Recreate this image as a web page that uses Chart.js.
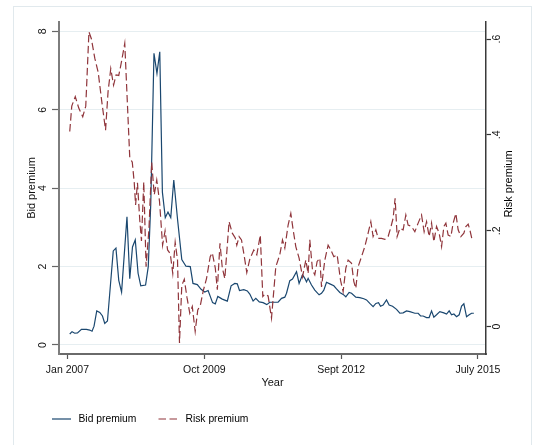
<!DOCTYPE html>
<html>
<head>
<meta charset="utf-8">
<script src="https://cdn.jsdelivr.net/npm/chart.js@4.4.1/dist/chart.umd.min.js"></script>
<style>
  html, body { margin: 0; padding: 0; background: #fff; overflow: hidden; }
  #frame { position: absolute; left: 13px; top: 6px; width: 517px; height: 460px; border: 1px solid #e1e9ed; }
  #c { position: absolute; left: 0; top: 0; }
</style>
</head>
<body>
<div id="frame"></div>
<canvas id="c" width="534" height="445"></canvas>
<script>
// time index in months from Jan 2007
const xTickValues = [0, 34, 68, 102];
const xTickLabels = ["Jan 2007", "Oct 2009", "Sept 2012", "July 2015"];
const bidTicks = [0, 2, 4, 6, 8];
const riskTicks = [0, 0.2, 0.4, 0.6];
const riskTickLabels = ["0", ".2", ".4", ".6"];

const bidMonths = [0.57,1.14,1.81,2.49,3.48,4.72,5.54,6.11,6.61,7.28,
  8.03,8.70,9.27,9.94,11.38,12.05,12.75,13.45,14.79,15.48,
  16.16,16.85,17.55,18.22,19.41,20.08,20.70,21.50,22.24,22.94,
  23.59,24.31,24.98,25.67,26.42,27.36,28.41,29.45,30.52,31.19,
  32.26,33.21,34.12,34.95,36.06,36.73,37.36,38.47,39.72,40.66,
  41.58,42.20,42.75,43.82,44.69,45.31,46.13,46.80,47.67,48.61,
  49.53,50.28,51.52,52.34,53.19,54.01,54.43,55.25,55.92,56.92,
  57.56,58.41,58.98,59.40,59.80,60.64,61.46,62.53,63.13,63.70,
  64.37,65.19,66.19,66.86,67.68,68.50,69.17,69.99,70.59,71.65,
  72.65,73.64,74.31,75.13,75.95,76.63,77.30,77.79,78.44,79.28,
  79.93,80.78,81.77,82.59,83.41,84.25,85.08,86.32,87.14,87.74,
  88.38,89.23,89.87,90.47,91.04,91.71,92.53,93.53,94.20,94.85,
  95.44,96.02,96.69,97.33,97.93,98.50,99.17,99.82,100.41,100.98];
const bidValues = [0.28,0.34,0.30,0.31,0.40,0.40,0.38,0.35,0.48,0.87,
  0.83,0.74,0.55,0.61,2.40,2.47,1.65,1.35,3.27,1.69,
  2.50,2.68,1.83,1.51,1.53,2.0,3.6,7.44,6.93,7.48,
  3.9,3.25,3.39,3.25,4.21,3.2,2.18,2.01,2.0,1.57,
  1.54,1.42,1.35,1.39,1.08,1.05,1.24,1.17,1.12,1.51,
  1.57,1.56,1.39,1.41,1.38,1.30,1.12,1.19,1.10,1.08,
  1.03,1.09,1.09,1.09,1.19,1.22,1.32,1.64,1.68,1.87,
  1.57,1.79,1.70,1.61,1.70,1.53,1.40,1.28,1.32,1.40,
  1.60,1.56,1.51,1.43,1.34,1.29,1.23,1.34,1.32,1.22,
  1.21,1.18,1.15,1.06,0.98,1.06,1.08,0.99,1.02,1.15,
  1.02,0.99,0.91,0.81,0.82,0.87,0.85,0.81,0.81,0.74,
  0.74,0.70,0.70,0.87,0.71,0.77,0.85,0.82,0.79,0.87,
  0.77,0.79,0.72,0.77,0.99,1.05,0.72,0.77,0.81,0.81];

const riskMonths = [0.57,1.07,1.94,2.81,3.80,4.55,5.34,5.96,6.79,7.65,
  8.52,9.47,10.09,10.76,11.46,12.08,12.75,13.37,14.24,15.48,
  16.11,16.60,16.93,17.40,17.97,18.39,18.96,19.54,20.26,20.93,
  21.57,22.19,22.87,23.64,24.26,24.88,25.55,26.17,26.77,27.35,
  27.84,28.41,29.03,29.70,30.40,31.02,31.74,32.38,33.03,33.75,
  34.55,35.47,35.99,36.74,37.24,37.90,38.47,39.10,40.16,40.96,
  41.70,42.08,42.65,43.25,43.82,44.56,45.31,46.30,47.05,47.92,
  48.54,49.04,49.86,50.70,51.77,52.76,53.43,54.01,54.83,55.50,
  56.08,56.74,57.56,58.41,59.23,59.80,60.22,60.89,61.46,62.04,
  62.71,63.13,63.95,64.77,65.44,66.19,67.01,67.85,68.50,69.17,
  69.74,70.59,71.16,71.65,72.22,73.07,73.89,74.71,75.38,75.95,
  76.63,77.20,78.04,78.86,79.68,80.28,80.92,81.42,81.92,82.59,
  83.41,84.08,84.65,85.50,86.32,87.14,87.98,88.63,89.23,89.87,
  90.47,91.04,91.71,92.36,92.96,93.53,94.03,94.60,95.27,95.84,
  96.51,97.08,97.75,98.50,99.00,99.57,99.99,100.56];
const riskValues = [0.407,0.46,0.48,0.456,0.438,0.46,0.615,0.600,0.560,0.530,
  0.470,0.410,0.490,0.538,0.504,0.525,0.524,0.550,0.591,0.353,
  0.343,0.300,0.254,0.300,0.222,0.179,0.302,0.125,0.205,0.343,
  0.275,0.306,0.262,0.170,0.200,0.160,0.152,0.111,0.176,0.139,
  -0.034,0.086,0.099,0.061,0.028,0.042,-0.010,0.035,0.045,0.075,
  0.100,0.146,0.154,0.122,0.077,0.174,0.123,0.100,0.219,0.195,
  0.185,0.170,0.188,0.181,0.153,0.113,0.141,0.160,0.150,0.191,
  0.063,0.068,0.064,0.018,0.125,0.150,0.181,0.164,0.212,0.236,
  0.202,0.167,0.143,0.104,0.139,0.111,0.181,0.118,0.108,0.136,
  0.143,0.083,0.139,0.170,0.160,0.146,0.150,0.097,0.073,0.122,
  0.139,0.132,0.094,0.080,0.125,0.146,0.167,0.195,0.219,0.188,
  0.202,0.184,0.184,0.182,0.188,0.205,0.226,0.268,0.188,0.205,
  0.202,0.233,0.212,0.209,0.198,0.216,0.233,0.198,0.219,0.188,
  0.216,0.177,0.209,0.195,0.167,0.209,0.216,0.191,0.188,0.216,
  0.236,0.202,0.188,0.195,0.209,0.214,0.202,0.181];

const FONT = "'Liberation Sans', Arial, sans-serif";
const tickFont = { family: FONT, size: 10.5 };
const titleFont = { family: FONT, size: 11 };

// legend and right title drawn Stata-style (both axis titles read upward)
const stataExtras = {
  id: "stataExtras",
  afterDraw(chart) {
    const ctx = chart.ctx;
    const yr = chart.scales.y1;
    ctx.save();
    ctx.fillStyle = "#000";
    ctx.font = "11px " + FONT;
    ctx.textAlign = "center";
    ctx.textBaseline = "middle";
    ctx.translate(508.5, (yr.top + yr.bottom) / 2 - 4);
    ctx.rotate(-Math.PI / 2);
    ctx.fillText("Risk premium", 0, 0);
    ctx.restore();

    const items = [[52, 71, 78.5], [158.5, 177.5, 185.5]];
    chart.data.datasets.forEach((ds, i) => {
      const [x0, x1, tx] = items[i];
      ctx.save();
      ctx.strokeStyle = ds.borderColor;
      ctx.lineWidth = ds.borderWidth;
      ctx.setLineDash(ds.borderDash || []);
      ctx.beginPath();
      ctx.moveTo(x0, 419);
      ctx.lineTo(x1, 419);
      ctx.stroke();
      ctx.fillStyle = "#000";
      ctx.font = "10.3px " + FONT;
      ctx.textBaseline = "middle";
      ctx.fillText(ds.label, tx, 419);
      ctx.restore();
    });
  },
};

const chart = new Chart(document.getElementById("c"), {
  type: "line",
  data: {
    datasets: [
      {
        label: "Bid premium",
        data: bidMonths.map((m, i) => ({ x: m, y: bidValues[i] })),
        borderColor: "#1a476f",
        borderWidth: 1.2,
        pointRadius: 0,
        yAxisID: "y",
        order: 1,
      },
      {
        label: "Risk premium",
        data: riskMonths.map((m, i) => ({ x: m, y: riskValues[i] })),
        borderColor: "#90353b",
        borderWidth: 1.2,
        borderDash: [7.5, 3.5],
        pointRadius: 0,
        yAxisID: "y1",
        order: 0,
      },
    ],
  },
  options: {
    responsive: false,
    animation: false,
    devicePixelRatio: 1,
    layout: { padding: { left: 13, right: 0, top: 22, bottom: 55 } },
    plugins: { legend: { display: false }, tooltip: { enabled: false } },
    scales: {
      x: {
        type: "linear",
        position: "bottom",
        min: -2.1,
        max: 104,
        afterBuildTicks: (s) => { s.ticks = xTickValues.map((v) => ({ value: v })); },
        afterFit: (s) => { s.height = 36; },
        ticks: {
          autoSkip: false,
          maxRotation: 0,
          padding: 5,
          color: "#111",
          font: tickFont,
          callback: (v) => xTickLabels[xTickValues.indexOf(v)],
        },
        grid: { drawOnChartArea: false, tickLength: 5, tickColor: "#555", tickWidth: 1.2 },
        border: { color: "#6a6a6a", width: 2 },
        title: { display: true, text: "Year", color: "#111", font: titleFont, padding: { top: 0, bottom: 0 } },
      },
      y: {
        position: "left",
        min: -0.23,
        max: 8.24,
        afterBuildTicks: (s) => { s.ticks = bidTicks.map((v) => ({ value: v })); },
        afterFit: (s) => { s.width = 46; },
        ticks: {
          minRotation: 90,
          maxRotation: 90,
          crossAlign: "center",
          padding: 5.5,
          color: "#111",
          font: tickFont,
          callback: (v) => String(v),
        },
        grid: { color: "#e6eef1", lineWidth: 1, tickLength: 7, tickColor: "#666", tickWidth: 1.2 },
        border: { color: "#7d7d7d", width: 2 },
        title: { display: true, text: "Bid premium", color: "#111", font: titleFont, padding: { top: 12.5, bottom: 0 } },
      },
      y1: {
        position: "right",
        min: -0.057,
        max: 0.6355,
        afterBuildTicks: (s) => { s.ticks = riskTicks.map((v) => ({ value: v })); },
        afterFit: (s) => { s.width = 48; },
        ticks: {
          minRotation: 90,
          maxRotation: 90,
          crossAlign: "center",
          padding: 1.5,
          color: "#111",
          font: tickFont,
          callback: (v) => riskTickLabels[riskTicks.indexOf(v)],
        },
        grid: { drawOnChartArea: false, tickLength: 5, tickColor: "#333", tickWidth: 1.2 },
        border: { color: "#3a3a3a", width: 1.5 },
        title: { display: false },
      },
    },
  },
  plugins: [stataExtras],
});
</script>
</body>
</html>
